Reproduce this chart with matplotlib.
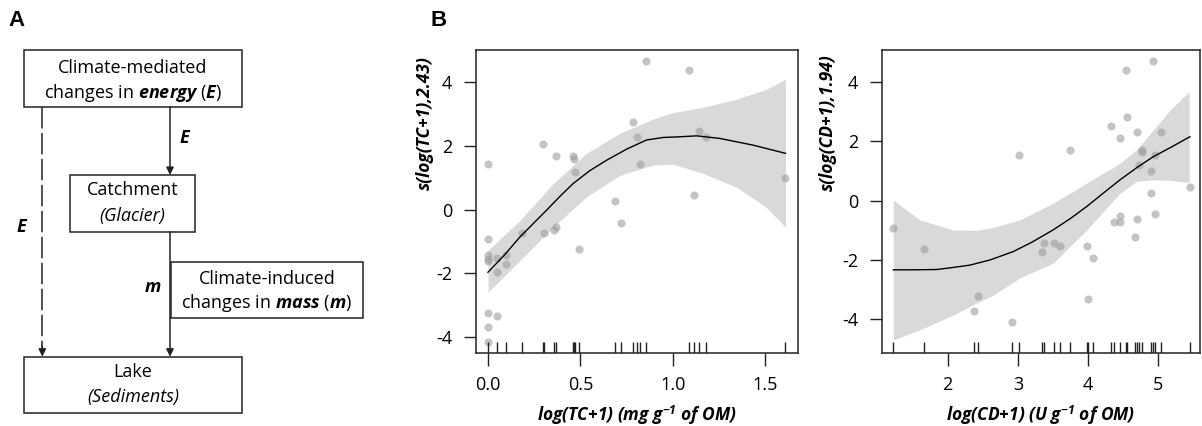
import matplotlib
matplotlib.use('Agg')
import matplotlib.pyplot as plt
from matplotlib.patches import Rectangle

plt.rcParams['font.family'] = ['Open Sans', 'DejaVu Sans']
plt.rcParams['axes.unicode_minus'] = False
plt.rcParams['mathtext.fontset'] = 'custom'
plt.rcParams['mathtext.rm'] = 'Open Sans'
plt.rcParams['mathtext.it'] = 'Open Sans:italic'
plt.rcParams['mathtext.bf'] = 'Open Sans:italic:bold'

# ---- Panel B, left: total carbohydrates (TC) ----
tc_x = [0.0, 0.0, 0.0, 0.0, 0.0, 0.0, 0.0, 0.0,
        0.047, 0.047, 0.047, 0.096, 0.096, 0.185, 0.296, 0.303,
        0.36, 0.369, 0.369, 0.458, 0.465, 0.472, 0.494, 0.69, 0.72,
        0.785, 0.809, 0.825, 0.854, 1.088, 1.115, 1.142, 1.182, 1.609]
tc_y = [1.45, -0.93, -1.44, -1.55, -1.62, -3.25, -3.7, -4.15,
        -1.53, -1.96, -3.34, -1.44, -1.72, -0.74, 2.07, -0.74,
        -0.65, 1.69, -0.55, 1.69, 1.59, 1.17, -1.25, 0.28, -0.41,
        2.76, 2.29, 1.45, 4.68, 4.39, 0.47, 2.48, 2.29, 1.0]

# fitted smooth and confidence band
tc_fit_x = [0.0, 0.09, 0.173, 0.25, 0.317, 0.39, 0.461, 0.55, 0.641, 0.75, 0.858, 0.95, 1.038, 1.13, 1.254, 1.434, 1.611]
tc_fit_y = [-1.97, -1.42, -0.86, -0.41, -0.02, 0.42, 0.82, 1.22, 1.55, 1.9, 2.19, 2.27, 2.29, 2.32, 2.24, 2.03, 1.77]
tc_band_x = [0.0, 0.173, 0.353, 0.533, 0.714, 0.894, 1.0, 1.164, 1.344, 1.506, 1.611]
tc_band_lo = [-2.6, -1.6, -0.55, 0.4, 1.08, 1.4, 1.43, 1.14, 0.71, 0.08, -0.55]
tc_band_hi = [-1.28, -0.34, 0.82, 1.77, 2.4, 2.85, 3.05, 3.22, 3.47, 3.78, 4.1]

# ---- Panel B, right: cellulase activity (CD) ----
cd_x = [1.225, 1.667, 2.37, 2.43, 2.91, 3.01, 3.34, 3.375, 3.52, 3.60, 3.74,
        3.99, 4.0, 4.075, 4.33, 4.37, 4.455, 4.455, 4.455, 4.535, 4.555,
        4.665, 4.69, 4.69, 4.725, 4.765, 4.765, 4.89, 4.89, 4.92, 4.955,
        4.955, 5.045, 5.45]
cd_y = [-0.93, -1.63, -3.71, -3.21, -4.1, 1.52, -1.73, -1.42, -1.42, -1.53, 1.71,
        -1.53, -3.32, -1.93, 2.5, -0.73, 2.11, -0.53, -0.73, 4.4, 2.81,
        -1.23, 2.31, -0.63, 1.21, 1.71, 1.62, 1.01, 0.27, 4.7, 1.52,
        -0.44, 2.31, 0.47]

cd_fit_x = [1.225, 1.5, 1.84, 2.08, 2.32, 2.6, 2.93, 3.2, 3.5, 3.75, 3.98, 4.2, 4.455, 4.7, 4.93, 5.2, 5.45]
cd_fit_y = [-2.33, -2.33, -2.32, -2.25, -2.17, -2.0, -1.72, -1.4, -0.99, -0.6, -0.2, 0.22, 0.7, 1.12, 1.48, 1.82, 2.15]
cd_band_x = [1.225, 1.605, 2.08, 2.41, 2.65, 3.03, 3.5, 3.98, 4.455, 4.69, 4.93, 5.17, 5.44]
cd_band_lo = [-4.69, -4.35, -3.85, -3.45, -3.18, -2.6, -2.11, -0.99, 0.25, 0.65, 0.7, 0.68, 0.61]
cd_band_hi = [0.02, -0.65, -0.99, -1.0, -0.9, -0.65, -0.09, 0.59, 1.26, 1.71, 2.38, 3.05, 3.67]

W, H = 1202, 426
fig = plt.figure(figsize=(W / 100, H / 100), dpi=100)

# ---- Panel A: schematic, drawn in pixel coordinates ----
axA = fig.add_axes([0, 0, 1, 1])
axA.set_xlim(0, W)
axA.set_ylim(H, 0)
axA.axis('off')

boxes = [(24, 50, 217.7, 56.7), (70, 175, 125, 56.7),
         (171, 261.7, 191.7, 56.6), (24, 356.7, 217.7, 56.6)]
for bx, by, bw, bh in boxes:
    axA.add_patch(Rectangle((bx, by), bw, bh, fill=False, edgecolor='#222222', lw=1.1))

fs = 13
axA.text(133, 68, 'Climate-mediated', ha='center', va='center', fontsize=fs)
axA.text(133, 93, r'changes in $\mathbf{energy}$ ($\mathbf{E}$)', ha='center', va='center', fontsize=fs)
axA.text(132.5, 190, 'Catchment', ha='center', va='center', fontsize=fs)
axA.text(132.5, 216, '(Glacier)', ha='center', va='center', fontsize=fs, style='italic')
axA.text(267, 278.5, 'Climate-induced', ha='center', va='center', fontsize=fs)
axA.text(267, 303, r'changes in $\mathbf{mass}$ ($\mathbf{m}$)', ha='center', va='center', fontsize=fs)
axA.text(133, 372, 'Lake', ha='center', va='center', fontsize=fs)
axA.text(133, 397, '(Sediments)', ha='center', va='center', fontsize=fs, style='italic')

arrow = dict(arrowstyle='-|>', color='#222222', lw=1.1, mutation_scale=11, shrinkA=0, shrinkB=0)
axA.annotate('', xy=(170, 175), xytext=(170, 106.7), arrowprops=arrow)
axA.annotate('', xy=(170, 356.7), xytext=(170, 231.7), arrowprops=arrow)
axA.plot([42.3, 42.3], [106.7, 348], color='#222222', lw=1.1, linestyle=(0, (14, 3)))
axA.annotate('', xy=(42.3, 356.7), xytext=(42.3, 346), arrowprops=arrow)

axA.text(184, 138, 'E', ha='center', va='center', fontsize=fs, weight='bold', style='italic')
axA.text(21, 227, 'E', ha='center', va='center', fontsize=fs, weight='bold', style='italic')
axA.text(153, 287, 'm', ha='center', va='center', fontsize=fs, weight='bold', style='italic')

axA.text(8, 20, 'A', ha='left', va='center', fontsize=16, weight='bold', family='Liberation Sans')
axA.text(431, 20, 'B', ha='left', va='center', fontsize=16, weight='bold', family='Liberation Sans')


def gam_panel(ax, x, y, fx, fy, bx, lo, hi, xlim, ylim, xticks, xticklabels, xlabel, ylabel, ylx):
    ax.fill_between(bx, lo, hi, color='#d9d9d9', lw=0, zorder=1)
    ax.plot(fx, fy, color='black', lw=1.0, zorder=3)
    ax.scatter(x, y, s=34, color='#9e9e9e', alpha=0.6, lw=0, zorder=2)
    ax.vlines(sorted(set(x)), 0, 0.034, transform=ax.get_xaxis_transform(), color='#222222', lw=1.0)
    ax.set_xlim(*xlim)
    ax.set_ylim(*ylim)
    ax.set_xticks(xticks)
    ax.set_xticklabels(xticklabels)
    ax.set_yticks([-4, -2, 0, 2, 4])
    ax.tick_params(direction='out', length=9, width=1.0, labelsize=13, pad=8, color='#222222')
    for sp in ax.spines.values():
        sp.set_linewidth(1.1)
        sp.set_color('#222222')
    ax.set_xlabel(xlabel, fontsize=12.5, labelpad=7, weight='bold', style='italic')
    ax.text(ylx, 0.76, ylabel, transform=ax.transAxes, rotation=90, ha='center', va='center',
            fontsize=12.5, weight='bold', style='italic')


ax1 = fig.add_axes([476 / W, (H - 352.7) / H, 321.7 / W, 302.7 / H])
gam_panel(ax1, tc_x, tc_y, tc_fit_x, tc_fit_y, tc_band_x, tc_band_lo, tc_band_hi,
          (-0.065, 1.677), (-4.5, 5.02), [0, 0.5, 1.0, 1.5], ['0.0', '0.5', '1.0', '1.5'],
          r'log(TC+1) (mg $\mathbf{g}^{\mathbf{-1}}$ of OM)', 's(log(TC+1),2.43)', -0.159)

ax2 = fig.add_axes([881.7 / W, (H - 352.7) / H, 318 / W, 302.7 / H])
gam_panel(ax2, cd_x, cd_y, cd_fit_x, cd_fit_y, cd_band_x, cd_band_lo, cd_band_hi,
          (1.06, 5.59), (-5.12, 5.07), [2, 3, 4, 5], ['2', '3', '4', '5'],
          r'log(CD+1) (U $\mathbf{g}^{\mathbf{-1}}$ of OM)', 's(log(CD+1),1.94)', -0.169)

plt.savefig('out.png', dpi=100, facecolor='white')
